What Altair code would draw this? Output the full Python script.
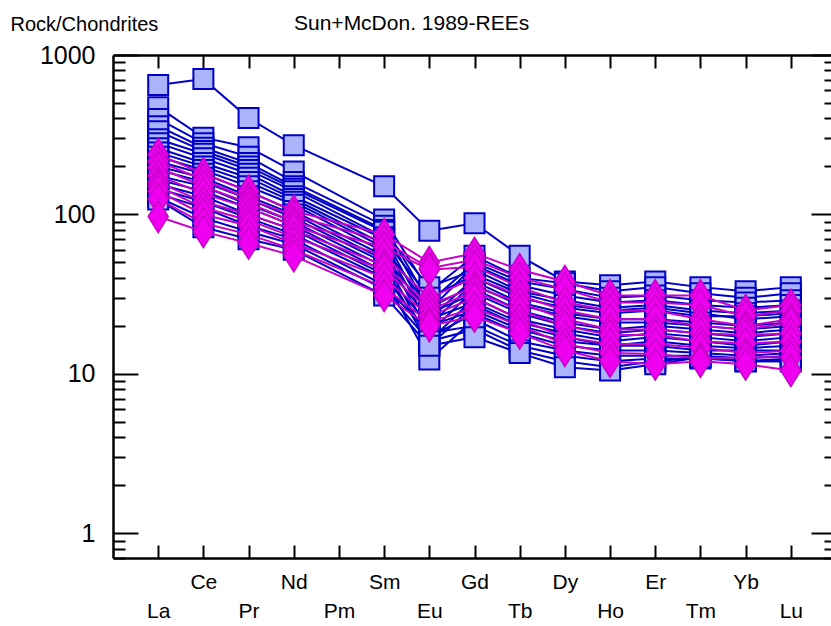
import json
import altair as alt
import pandas as pd

# ---------------- data ----------------
elements = ["La", "Ce", "Pr", "Nd", "Pm", "Sm", "Eu", "Gd", "Tb", "Dy", "Ho", "Er", "Tm", "Yb", "Lu"]
measured = ["La", "Ce", "Pr", "Nd", "Sm", "Eu", "Gd", "Tb", "Dy", "Ho", "Er", "Tm", "Yb", "Lu"]

blue_series = [
    [648, 706, 402, 272, 150, 79, 88, 55, 38, 36, 38, 35, 33, 35],
    [471, 303, 264, 186, 93, 33, 55, 40, 37, 33, 35, 32, 30, 32],
    [397, 280, 230, 160, 85, 28, 50, 38, 34, 30, 31, 29, 28, 29],
    [358, 262, 210, 150, 80, 25, 48, 36, 31, 28, 29, 27, 26, 27],
    [333, 250, 200, 145, 78, 35, 45, 33, 29, 26, 27, 25, 24, 25],
    [296, 240, 190, 140, 72, 22, 40, 30, 26, 24, 25, 23, 23, 24],
    [280, 225, 180, 130, 70, 30, 42, 32, 27, 25, 26, 24, 22, 23],
    [260, 210, 170, 125, 65, 20, 38, 28, 24, 22, 22, 21, 20, 21],
    [245, 200, 160, 120, 62, 26, 36, 27, 23, 21, 21, 20, 19, 20],
    [230, 190, 150, 115, 58, 18, 34, 25, 21, 19, 20, 19, 18, 19],
    [215, 180, 140, 105, 55, 24, 32, 24, 20, 18, 19, 18, 17, 18],
    [200, 170, 130, 100, 52, 16, 30, 22, 19, 17, 18, 17, 16, 17],
    [190, 160, 125, 95, 50, 22, 28, 21, 18, 16, 17, 16, 15, 16],
    [175, 150, 115, 90, 47, 15, 27, 20, 17, 15, 16, 15, 14.5, 15],
    [165, 140, 110, 85, 44, 20, 25, 19, 16, 15, 15, 14, 14, 14],
    [155, 130, 100, 80, 42, 17, 24, 18, 15, 14, 14, 13.5, 13, 13.5],
    [145, 120, 95, 75, 40, 12.3, 22, 16, 14, 13, 13, 13, 12.5, 13],
    [135, 110, 85, 70, 36, 18, 20, 15, 13, 12, 12.5, 12.5, 12, 12.5],
    [128, 95, 78, 65, 34, 16, 19, 14, 12, 11, 12, 12.7, 12, 12],
    [124, 83, 70, 60, 31, 15, 17, 13.5, 11, 10.5, 11.5, 12.7, 12, 12],
]

magenta_series = [
    [238, 180, 140, 105, 75, 50, 57, 45, 38, 31, 31, 31, 25, 27],
    [215, 165, 125, 98, 68, 46, 52, 40, 34, 28, 28, 27, 23, 25],
    [197, 150, 118, 90, 62, 45, 47, 35, 28, 25, 25, 22, 20, 22],
    [175, 135, 110, 85, 55, 30, 40, 31, 25, 22, 22, 20, 19, 21],
    [159, 120, 100, 80, 48, 27, 35, 28, 22, 19, 19, 18, 17.5, 18],
    [150, 110, 92, 72, 45, 25, 33, 25, 20, 17.5, 17.5, 16, 15.5, 16],
    [140, 100, 85, 66, 40, 23, 30, 22, 17, 15.4, 15.4, 14.6, 13.5, 14],
    [125, 88, 75, 60, 35, 21, 26, 20, 15.4, 13.5, 13.3, 12.5, 12.7, 12.7],
    [97, 78, 66, 55, 31, 20, 23, 18, 14, 12, 11.5, 12, 11.5, 10.5],
]

y_label_values = [1, 10, 100, 1000]
y_tick_values = [0.7, 0.8, 0.9, 1, 2, 3, 4, 5, 6, 7, 8, 9,
                 10, 20, 30, 40, 50, 60, 70, 80, 90,
                 100, 200, 300, 400, 500, 600, 700, 800, 900, 1000]
y_title = "Rock/Chondrites"
top_title = "Sun+McDon. 1989-REEs"


def to_long(series_list, group):
    rows = []
    for i, vals in enumerate(series_list):
        for el, v in zip(measured, vals):
            rows.append({"sample": f"{group}{i:02d}", "idx": elements.index(el),
                         "element": el, "value": v})
    return pd.DataFrame(rows)


blue_df = to_long(blue_series, "B")
mag_df = to_long(magenta_series, "M")

# ---------------- styling ----------------
W, H = 723, 503
FONT = "Liberation Sans"
BLUE_LINE = "#0000c8"
BLUE_FILL = "#aab4fa"
MAG_LINE = "#c800c8"
MAG_FILL = "#f000f0"

xscale = alt.Scale(domain=[-1, 15], nice=False, zero=False)
yscale = alt.Scale(type="log", domain=[0.7, 1000], nice=False)

label_expr = json.dumps(elements).replace('"', "'") + "[datum.value]"
major_test = "datum.value == 1 || datum.value == 10 || datum.value == 100 || datum.value == 1000"

# main labelled axes (outside)
x_main = alt.Axis(values=list(range(15)), labelExpr=label_expr, ticks=False, tickSize=0,
                  domain=True, domainColor="black", domainWidth=2.5, grid=False, title=None,
                  labelAngle=0, labelBaseline="top", labelAlign="center", labelFlush=False,
                  labelOverlap=False, labelFont=FONT, labelFontSize=21, labelColor="black",
                  labelPadding={"condition": {"test": "datum.value % 2 == 1", "value": 13},
                                "value": 42})
y_main = alt.Axis(values=y_label_values, format="d", ticks=False, tickSize=0,
                  domain=True, domainColor="black", domainWidth=2.5, grid=False,
                  labelFont=FONT, labelFontSize=25, labelColor="black", labelPadding=18,
                  labelFlush=False, labelOverlap=False, labelBaseline="middle",
                  title=y_title, titleAngle=0, titleAlign="left", titleBaseline="alphabetic",
                  titleX=-103, titleY=-25, titleFont=FONT, titleFontSize=20,
                  titleFontWeight="normal", titleColor="black")

# inward ticks at bottom / left
x_in_bottom = alt.Axis(orient="top", offset=-H, values=list(range(15)), labels=False,
                       domain=False, ticks=True, tickSize=13, tickWidth=2, tickColor="black",
                       grid=False, title=None)
y_in_left = alt.Axis(orient="right", offset=-W, values=y_tick_values, labels=False,
                     domain=False, ticks=True, tickWidth=2, tickColor="black", grid=False,
                     title=None,
                     tickSize={"condition": {"test": major_test, "value": 25}, "value": 12})

# inward ticks at top / right, with frame lines
x_in_top = alt.Axis(orient="bottom", offset=-H, values=list(range(15)), labels=False,
                    domain=True, domainColor="black", domainWidth=2.5, ticks=True,
                    tickSize=13, tickWidth=2, tickColor="black", grid=False, title=None)
y_in_right = alt.Axis(orient="left", offset=-W, values=y_tick_values, labels=False,
                      domain=True, domainColor="black", domainWidth=2.5, ticks=True,
                      tickWidth=2, tickColor="black", grid=False, title=None,
                      tickSize={"condition": {"test": major_test, "value": 25}, "value": 12})

diamond = "M0,-1.6L1,0L0,1.6L-1,0Z"

blue_lines = alt.Chart(blue_df).mark_line(color=BLUE_LINE, strokeWidth=2).encode(
    x=alt.X("idx:Q", scale=xscale, axis=x_main),
    y=alt.Y("value:Q", scale=yscale, axis=y_main),
    detail="sample:N", order="idx:Q")

blue_pts = alt.Chart(blue_df).mark_point(shape="square", size=400, filled=True, fill=BLUE_FILL,
                                         stroke=BLUE_LINE, strokeWidth=2, opacity=1).encode(
    x=alt.X("idx:Q", scale=xscale, axis=x_in_bottom),
    y=alt.Y("value:Q", scale=yscale, axis=y_in_left))

mag_lines = alt.Chart(mag_df).mark_line(color=MAG_LINE, strokeWidth=2).encode(
    x=alt.X("idx:Q", scale=xscale, axis=x_in_top),
    y=alt.Y("value:Q", scale=yscale, axis=y_in_right),
    detail="sample:N", order="idx:Q")

mag_pts = alt.Chart(mag_df).mark_point(shape=diamond, size=400, filled=True, fill=MAG_FILL,
                                       stroke=MAG_LINE, strokeWidth=1.5, opacity=1).encode(
    x=alt.X("idx:Q", scale=xscale, axis=None),
    y=alt.Y("value:Q", scale=yscale, axis=None))

title_txt = alt.Chart(pd.DataFrame({"t": [top_title]})).mark_text(
    font=FONT, fontSize=21, align="left", baseline="alphabetic", color="black").encode(
    text="t:N", x=alt.value(181), y=alt.value(-25))

chart = alt.layer(blue_lines, blue_pts, mag_lines, mag_pts, title_txt).resolve_scale(
    x="shared", y="shared").resolve_axis(x="independent", y="independent").properties(
    width=W, height=H, autosize="none",
    padding={"left": 113, "top": 55, "right": -5, "bottom": 68},
    background="white").configure_view(strokeWidth=0)

chart.save("out.html", embed_options={"renderer": "svg", "actions": False})
